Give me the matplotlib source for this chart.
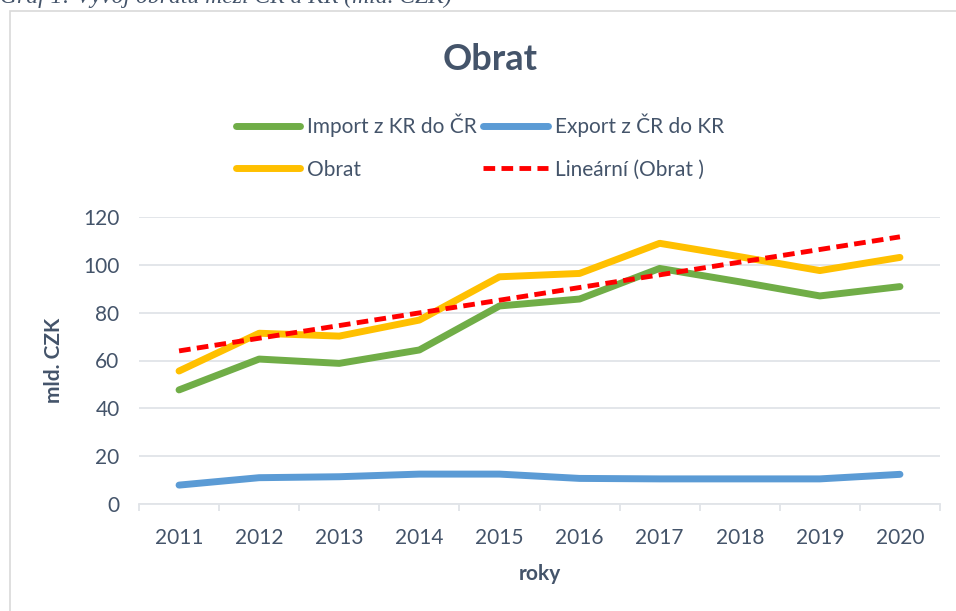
import numpy as np
import matplotlib
matplotlib.use("Agg")
from matplotlib import pyplot as plt
from matplotlib.patches import Rectangle
from matplotlib.lines import Line2D

years = ["2011", "2012", "2013", "2014", "2015", "2016", "2017", "2018", "2019", "2020"]
import_kr = [47.7, 60.6, 58.8, 64.4, 82.8, 85.7, 98.5, 92.9, 87.0, 90.9]
export_cr = [7.9, 11.0, 11.4, 12.5, 12.5, 10.7, 10.5, 10.5, 10.5, 12.4]
obrat = [55.6, 71.4, 70.2, 76.9, 95.0, 96.4, 109.0, 103.4, 97.6, 103.1]

TEXT = "#44546A"
GRID = "#E1E4E8"

plt.rcParams['font.family'] = ['Lato', 'DejaVu Sans']

W, H = 956, 611
fig = plt.figure(figsize=(W / 100, H / 100), dpi=100)
ax = fig.add_axes([139 / W, 1 - 504 / H, (940 - 139) / W, (504 - 217) / H])

x = np.arange(len(years))
# linear trendline of Obrat (like Excel's "Lineární")
k, q = np.polyfit(x, obrat, 1)
trend = k * x + q

ax.plot(x, import_kr, color="#70AD47", lw=5, solid_capstyle='round', solid_joinstyle='round', zorder=3)
ax.plot(x, export_cr, color="#5B9BD5", lw=5, solid_capstyle='round', solid_joinstyle='round', zorder=3)
ax.plot(x, obrat, color="#FFC000", lw=5, solid_capstyle='round', solid_joinstyle='round', zorder=3)
ax.plot(x, trend, color="#FF0000", lw=3.5, ls=(0, (2.4, 1.3)), zorder=4)

ax.set_xlim(-0.5, len(years) - 0.5)
ax.set_ylim(0, 120)
ax.set_yticks(range(0, 121, 20))
ax.set_xticks(x)
ax.set_xticklabels(years)
ax.set_xticks(np.arange(-0.5, len(years), 1), minor=True)

ax.grid(axis='y', color=GRID, lw=1.3)
ax.set_axisbelow(True)
for s in ["top", "right", "left"]:
    ax.spines[s].set_visible(False)
ax.spines["bottom"].set_color(GRID)
ax.spines["bottom"].set_linewidth(1.3)

ax.tick_params(axis='y', length=0, pad=14, labelsize=15, labelcolor=TEXT)
ax.tick_params(axis='x', which='major', length=0, pad=17, labelsize=15, labelcolor=TEXT)
ax.tick_params(axis='x', which='minor', length=5, width=1.3, color=GRID)

ax.set_ylabel("mld. CZK", fontsize=15, fontweight='bold', color=TEXT, labelpad=14)
ax.set_xlabel("roky", fontsize=15, fontweight='bold', color=TEXT, labelpad=12)

fig.text(490 / W, 1 - 60 / H, "Obrat", ha='center', va='center', fontsize=26, fontweight='bold', color=TEXT)

handles = [
    Line2D([], [], color="#70AD47", lw=5, solid_capstyle='round'),
    Line2D([], [], color="#FFC000", lw=5, solid_capstyle='round'),
    Line2D([], [], color="#5B9BD5", lw=5, solid_capstyle='round'),
    Line2D([], [], color="#FF0000", lw=3.5, ls=(0, (2.4, 1.3))),
]
labels = ["Import z KR do ČR", "Obrat", "Export z ČR do KR", "Lineární (Obrat )"]
fig.legend(handles, labels, ncol=2, loc='center', bbox_to_anchor=(480 / W, 1 - 146.5 / H),
           frameon=False, fontsize=15, labelcolor=TEXT, handlelength=3.1,
           handletextpad=0.35, columnspacing=0.3, labelspacing=1.1)

# chart frame and the caption above it (cropped in the source image)
fig.add_artist(Rectangle((10 / W, -0.05), 1.2, 1.05 - 11 / H, transform=fig.transFigure,
                         fill=False, edgecolor="#D9D9D9", lw=1.2))
fig.text(0, 1 - 3 / H, "Graf 1: Vývoj obratu mezi ČR a KR (mld. CZK)", ha='left', va='baseline',
         fontsize=17, fontstyle='italic', family=['Liberation Serif'], color=TEXT)

fig.savefig("out.png", dpi=100)
